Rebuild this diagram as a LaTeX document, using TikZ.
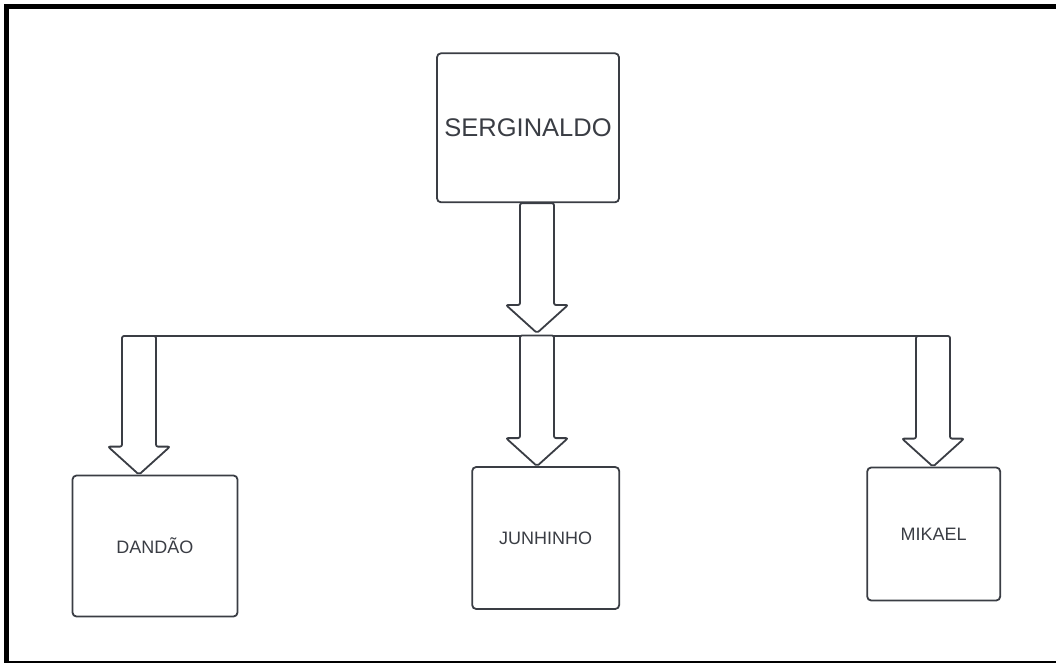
\documentclass[tikz,border=0pt]{standalone}
\usepackage{fontspec}
\setmainfont{Liberation Sans}
\usetikzlibrary{calc}
\definecolor{ink}{HTML}{3A3D44}
\newcommand\barrow[2]{\draw[blockarr] ($(#1)+(-17,0)$) -- ($(#2)+(-17,-28)$) -- ($(#2)+(-31,-28)$) -- (#2) -- ($(#2)+(31,-28)$) -- ($(#2)+(17,-28)$) -- ($(#1)+(17,0)$) -- cycle;}
\begin{document}
\begin{tikzpicture}[x=1pt,y=-1pt,
  box/.style={draw=ink, line width=1.8pt, rounded corners=4pt, text=ink, font=\fontsize{18}{20}\selectfont, inner sep=0pt},
  blockarr/.style={draw=ink, line width=1.8pt, rounded corners=2pt, fill=white, line join=round},
  bus/.style={draw=ink, line width=1.6pt}]
\useasboundingbox (0,0) rectangle (1056,662);
\draw[line width=4.6pt] (6.5,6.5) rectangle (1065,663.5);
\node[box, minimum width=182pt, minimum height=149pt, font=\fontsize{25.5}{28}\selectfont] (s) at (528,127.8) {SERGINALDO};
\node[box, minimum width=165pt, minimum height=141pt] (d) at (155,546) {DANDÃO};
\node[box, minimum width=147pt, minimum height=142pt] (j) at (545.7,538) {JUNHINHO};
\node[box, minimum width=133pt, minimum height=133pt] (m) at (933.7,534) {MIKAEL};
\coordinate (sa) at ($(s.south)+(9,0)$);
\coordinate (st) at (537,333);
\coordinate (bl) at (139,336);
\coordinate (bm) at (537,335.5);
\coordinate (br) at (933,336);
\draw[bus] (bl) -- (br);
\barrow{sa}{st}
\barrow{bl}{bl |- d.north}
\barrow{bm}{bm |- j.north}
\barrow{br}{br |- m.north}
\end{tikzpicture}
\end{document}
